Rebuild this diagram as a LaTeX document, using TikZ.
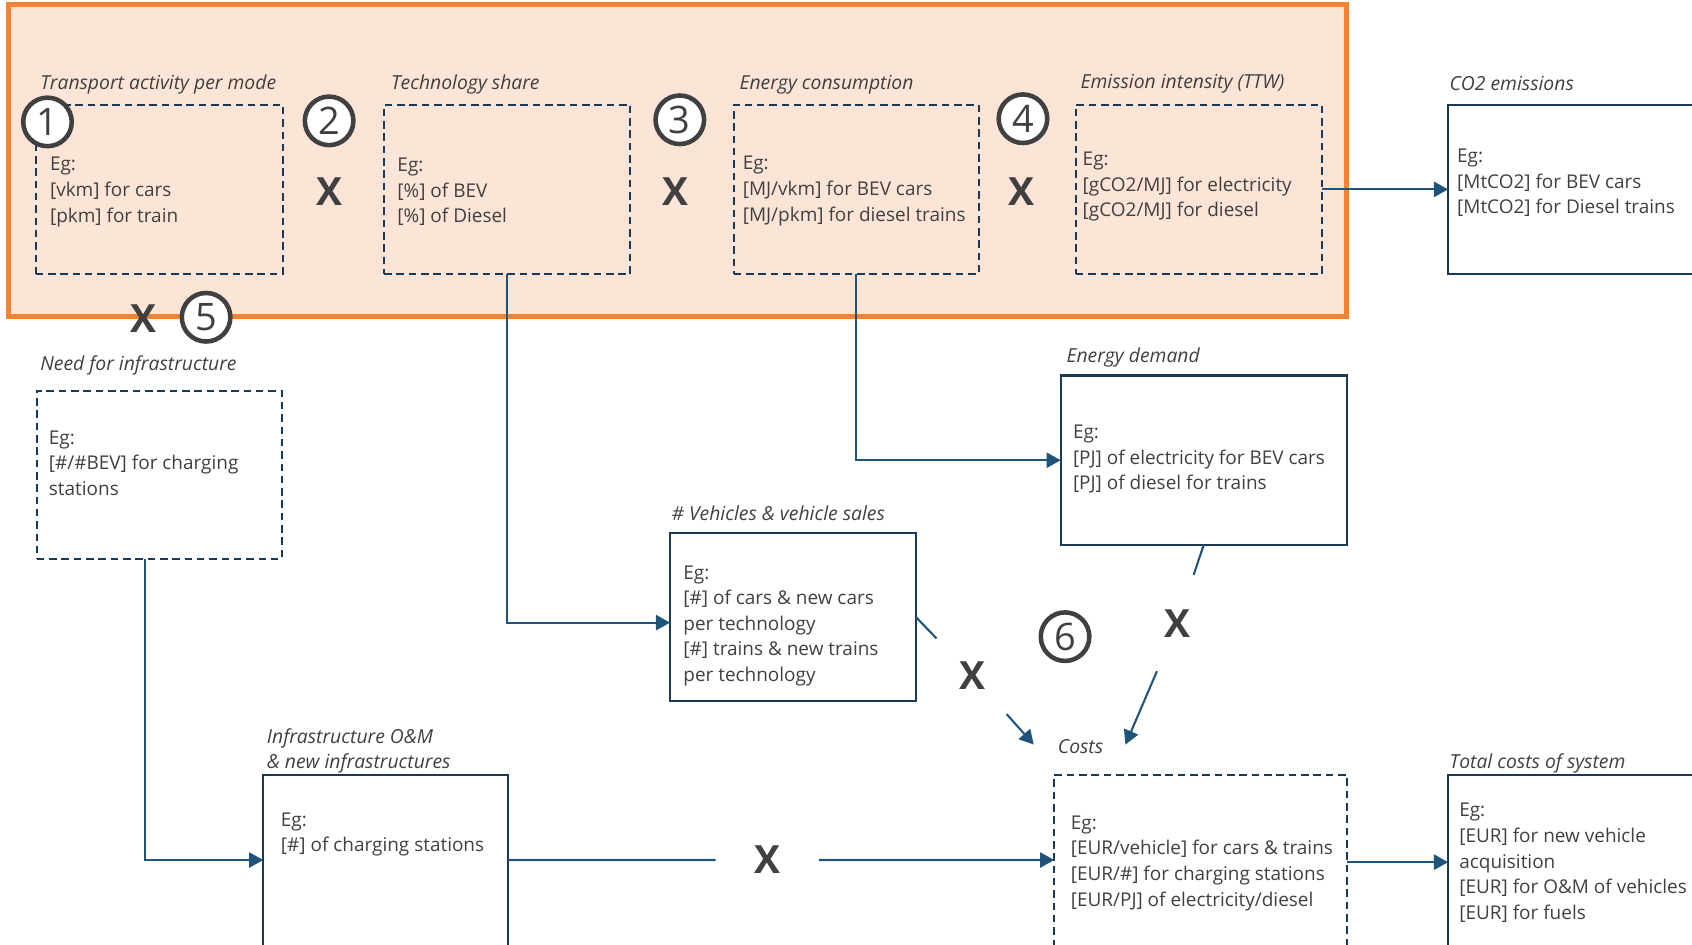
\documentclass[tikz,border=0pt]{standalone}
\usepackage{fontspec}
\setmainfont{Open Sans}
\usepackage{tikz}
\usetikzlibrary{arrows.meta,shapes,positioning}
\definecolor{peach}{RGB}{252,228,214}
\definecolor{tangerine}{RGB}{244,132,52}
\definecolor{navy}{RGB}{24,58,88}
\definecolor{steel}{RGB}{31,83,122}
\definecolor{ink}{RGB}{64,64,64}
\tikzstyle{solidbox}=[draw=navy,line width=1.1pt,rectangle,anchor=north west,outer sep=0pt,inner sep=0pt]
\tikzstyle{dashbox}=[solidbox,dash pattern=on 4pt off 2.5pt]
\tikzstyle{content}=[anchor=west,align=left,inner sep=0pt,text=ink,font=\fontsize{10}{13.5}\selectfont]
\tikzstyle{heading}=[anchor=base west,align=left,inner sep=0pt,text=ink,font=\fontsize{10.2}{13.3}\selectfont\itshape]
\tikzstyle{stepnum}=[circle,draw=ink,line width=2.4pt,fill=white,minimum size=0.9cm,inner sep=0pt,text=ink,font=\fontsize{20}{20}\selectfont]
\tikzstyle{times}=[inner sep=0pt,text=ink,font=\fontsize{20.5}{20.5}\selectfont\bfseries]
\tikzstyle{gap}=[times,circle,minimum size=1.9cm]
\tikzstyle{flow}=[draw=steel,line width=1.1pt]
\tikzstyle{feed}=[flow,-{Triangle[length=7.5pt,width=8pt]}]

\begin{document}
\begin{tikzpicture}[x=0.02cm,y=-0.02cm]
\clip (0,0) rectangle (1568,875);

% First the orange frame round the first four steps
\draw[tangerine,line width=2.6pt,fill=peach] (8,4) rectangle (1248,293);

% Then the boxes, dashed ones and solid ones
\foreach \name/\pos/\w/\h in {{b1/(33,97)/4.58/3.14},{b2/(356,97)/4.56/3.14},{b3/(680,97)/4.54/3.14},{b4/(997,97)/4.56/3.14},{need/(34,362)/4.54/3.12},{costs/(977,718)/5.42/3.24}}
\node[dashbox,minimum width=\w cm,minimum height=\h cm] (\name) at \pos {};

\foreach \name/\pos/\w/\h in {{co2/(1342,97)/5.40/3.14},{edb/(983,348)/5.30/3.14},{veh/(621,494)/4.56/3.12},{infra/(244,718)/4.54/3.24},{total/(1342,718)/5.40/3.24}}
\node[solidbox,minimum width=\w cm,minimum height=\h cm] (\name) at \pos {};

% Titles above the boxes
\node[heading] (t1) at (37,83) {Transport activity per mode};
\node[heading] (t2) at (362,83) {Technology share};
\node[heading] (t3) at (685,83) {Energy consumption};
\node[heading] (t4) at (1001,82) {Emission intensity (TTW)};
\node[heading] (tco2) at (1343,84) {CO2 emissions};
\node[heading] (tneed) at (37,343) {Need for infrastructure};
\node[heading] (tedb) at (988,336) {Energy demand};
\node[heading] (tveh) at (622,482) {\# Vehicles \& vehicle sales};
\node[heading,anchor=south west] (tinfra) at (247,717) {Infrastructure O\&M\\\& new infrastructures};
\node[heading] (tcosts) at (980,698) {Costs};
\node[heading] (ttotal) at (1343,712) {Total costs of system};

% Texts in the boxes
\node[content] (b1txt) at (46,178) {Eg:\\{[vkm]} for cars\\{[pkm]} for train};
\node[content] (b2txt) at (368,178) {Eg:\\{[\%]} of BEV\\{[\%]} of Diesel};
\node[content] (b3txt) at (688,177) {Eg:\\{[MJ/vkm]} for BEV cars\\{[MJ/pkm]} for diesel trains};
\node[content] (b4txt) at (1003,173) {Eg:\\{[gCO2/MJ]} for electricity\\{[gCO2/MJ]} for diesel};
\node[content] (co2txt) at (1350,169.5) {Eg:\\{[MtCO2]} for BEV cars\\{[MtCO2]} for Diesel trains};
\node[content] (needtxt) at (45,429) {Eg:\\{[\#/\#BEV]} for charging\\stations};
\node[content] (edbtxt) at (994,425.5) {Eg:\\{[PJ]} of electricity for BEV cars\\{[PJ]} of diesel for trains};
\node[content] (vehtxt) at (633,580) {Eg:\\{[\#]} of cars \& new cars\\per technology\\{[\#]} trains \& new trains\\per technology};
\node[content] (infratxt) at (260,773.5) {Eg:\\{[\#]} of charging stations};
\node[content] (coststxt) at (992,800) {Eg:\\{[EUR/vehicle]} for cars \& trains\\{[EUR/\#]} for charging stations\\{[EUR/PJ]} of electricity/diesel};
\node[content] (totaltxt) at (1352,799.5) {Eg:\\{[EUR]} for new vehicle\\acquisition\\{[EUR]} for O\&M of vehicles\\{[EUR]} for fuels};

% Connectors
\node[gap] (xi) at (711,797) {X};
\node[gap] (xv) at (901,626) {X};
\node[gap] (xe) at (1091,578) {X};
\coordinate (ca) at (958,690);
\coordinate (cb) at (1043,690);

\draw[feed] (b2.south) |- ([yshift=-0.1cm]veh.west);
\draw[feed] (b3.south) |- (edb.west);
\draw[feed] ([xshift=-0.27cm]need.south) |- ([yshift=0.04cm]infra.west);
\foreach \source/\dest in {b4/co2,costs/total}
\draw[feed] (\source) -- (\dest);
\draw[flow] ([yshift=0.04cm]infra.east) -- (xi);
\draw[feed] (xi) -- ([yshift=0.04cm]costs.west);
\draw[flow] (veh.east) -- (xv);
\draw[feed] (xv) -- (ca);
\draw[flow] (edb.south) -- (xe);
\draw[feed] (xe) -- (cb);

% Multiplication marks and step numbers
\foreach \pos/\name in {{(305,178)/x12},{(626,178)/x23},{(947,178)/x34},{(133,295)/x15}}
\node[times] (\name) at \pos {X};

\foreach \pos/\num in {{(44,113)/1},{(305,112)/2},{(630,111)/3},{(948,110)/4},{(191,294)/5},{(987,590)/6}}
\node[stepnum] (n\num) at \pos {\num};

\end{tikzpicture}
\end{document}
